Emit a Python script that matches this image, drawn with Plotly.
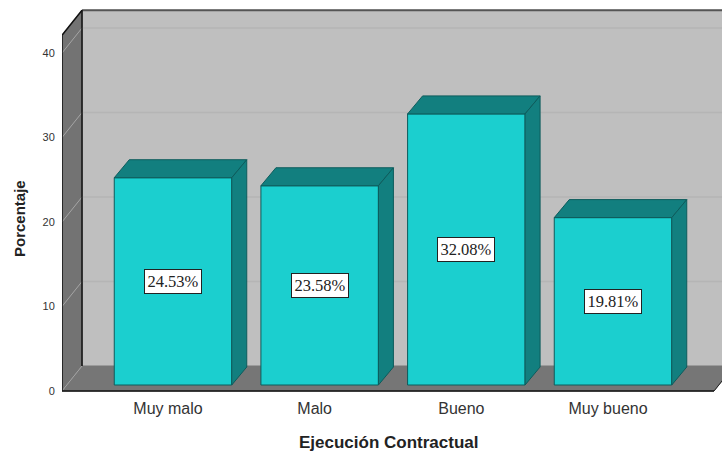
import plotly.graph_objects as go

categories = ["Muy malo", "Malo", "Bueno", "Muy bueno"]
values = [24.53, 23.58, 32.08, 19.81]
labels = ["24.53%", "23.58%", "32.08%", "19.81%"]
y_ticks = [0, 10, 20, 30, 40]

# Pseudo-3D geometry in axis units
PX_Y = 8.45
PX_X = 146.67
X_MIN = -106 / PX_X
X_MAX = X_MIN + 660 / PX_X
Y_MIN = -2 / PX_Y
Y_MAX = 391 / PX_Y
WALL_DX, WALL_DY = 20 / PX_X, 25 / PX_Y
BAR_DX, BAR_DY = 15 / PX_X, 18 / PX_Y
BAR_W = 117.5 / PX_X
BAR_SHIFT = 5 / PX_X
BAR_BASE = 6 / PX_Y
WALL_TOP = 42.1
LEFT = X_MIN
FLOOR_RIGHT = LEFT + 652 / PX_X

C_FRONT, C_DARK, C_EDGE = "#1BCFCF", "#127F7F", "#0D5C5C"
C_BACK, C_FLOOR, C_SIDE = "#BFBFBF", "#767676", "#737373"
TEXT = "#333333"

def poly(xs, ys, fill, line=None, width=1, layer="below"):
    path = "M " + " L ".join(f"{x},{y}" for x, y in zip(xs, ys)) + " Z"
    return dict(type="path", path=path, xref="x", yref="y", fillcolor=fill,
                line=dict(color=line or fill, width=width), layer=layer)

def seg(x0, y0, x1, y1, color, width=1):
    return dict(type="line", x0=x0, y0=y0, x1=x1, y1=y1, xref="x", yref="y",
                line=dict(color=color, width=width), layer="below")

shapes = [
    # back wall
    poly([LEFT + WALL_DX, X_MAX + 1, X_MAX + 1, LEFT + WALL_DX],
         [WALL_DY, WALL_DY, WALL_TOP + WALL_DY, WALL_TOP + WALL_DY], C_BACK),
    # left wall
    poly([LEFT, LEFT + WALL_DX, LEFT + WALL_DX, LEFT],
         [0, WALL_DY, WALL_TOP + WALL_DY, WALL_TOP], C_SIDE),
    # floor
    poly([LEFT, LEFT + WALL_DX, FLOOR_RIGHT + WALL_DX, FLOOR_RIGHT],
         [0, WALL_DY, WALL_DY, 0], C_FLOOR),
]
for t in y_ticks[1:]:
    shapes.append(seg(LEFT + WALL_DX, t + WALL_DY, X_MAX + 1, t + WALL_DY, "#B5B5B5", 1.5))
    shapes.append(seg(LEFT, t, LEFT + WALL_DX, t + WALL_DY, "#A6A6A6", 1))
shapes += [
    seg(LEFT, 0, LEFT + WALL_DX, WALL_DY, "#A6A6A6", 1),
    seg(LEFT + WALL_DX, WALL_TOP + WALL_DY, X_MAX + 1, WALL_TOP + WALL_DY, "#555555", 2),
    seg(LEFT, 0, LEFT, WALL_TOP, "#111111", 1.5),
    seg(LEFT + WALL_DX, WALL_DY, LEFT + WALL_DX, WALL_TOP + WALL_DY, "#111111", 1.5),
    seg(LEFT, WALL_TOP, LEFT + WALL_DX, WALL_TOP + WALL_DY, "#111111", 1.5),
    seg(LEFT, 0, FLOOR_RIGHT, 0, "#111111", 1.5),
    seg(FLOOR_RIGHT, 0, FLOOR_RIGHT + WALL_DX, WALL_DY, "#222222", 1),
]

idx = list(range(len(categories)))
fig = go.Figure()
fig.add_trace(go.Bar(x=[i + BAR_SHIFT for i in idx], y=values, base=BAR_BASE, width=BAR_W,
                     marker=dict(color=C_FRONT, line=dict(color=C_EDGE, width=1)),
                     hoverinfo="skip", showlegend=False))

annotations = []
for i, v, lab in zip(idx, values, labels):
    xl = i + BAR_SHIFT - BAR_W / 2
    xr = i + BAR_SHIFT + BAR_W / 2
    yb = BAR_BASE
    yt = BAR_BASE + v
    # top face
    fig.add_trace(go.Scatter(x=[xl, xr, xr + BAR_DX, xl + BAR_DX, xl],
                             y=[yt, yt, yt + BAR_DY, yt + BAR_DY, yt],
                             mode="lines", fill="toself", fillcolor=C_DARK,
                             line=dict(color=C_EDGE, width=1),
                             hoverinfo="skip", showlegend=False))
    # side face
    fig.add_trace(go.Scatter(x=[xr, xr + BAR_DX, xr + BAR_DX, xr, xr],
                             y=[yb, yb + BAR_DY, yt + BAR_DY, yt, yb],
                             mode="lines", fill="toself", fillcolor=C_DARK,
                             line=dict(color=C_EDGE, width=1),
                             hoverinfo="skip", showlegend=False))
    annotations.append(dict(x=i + BAR_SHIFT, y=yb + v / 2, xref="x", yref="y", text=lab,
                            showarrow=False, bgcolor="white", bordercolor="#222222",
                            borderwidth=1, borderpad=0, width=56, height=23,
                            font=dict(family="Liberation Serif", size=16.5, color="#222222")))

PLOT_H = 451 - 58
annotations.append(dict(x=(388 - 62) / 660, y=(PLOT_H - 442) / PLOT_H, xref="paper", yref="paper",
                        xanchor="center", yanchor="middle",
                        text="<b>Ejecución Contractual</b>", showarrow=False,
                        font=dict(family="Liberation Sans", size=17, color="#222222")))
annotations.append(dict(x=(20 - 62) / 660, y=(PLOT_H - 219) / PLOT_H, xref="paper", yref="paper",
                        xanchor="center", yanchor="middle",
                        text="<b>Porcentaje</b>", showarrow=False, textangle=-90,
                        font=dict(family="Liberation Sans", size=15, color="#222222")))

fig.update_layout(
    width=722, height=451, autosize=False,
    margin=dict(l=62, r=0, t=0, b=58, pad=0),
    paper_bgcolor="white", plot_bgcolor="white",
    showlegend=False, shapes=shapes, annotations=annotations,
    font=dict(family="Liberation Sans", color=TEXT),
    xaxis=dict(range=[X_MIN, X_MAX], tickmode="array", tickvals=idx, ticktext=categories,
               showgrid=False, zeroline=False, showline=False, automargin=False,
               ticks="outside", ticklen=1, tickcolor="rgba(0,0,0,0)",
               tickfont=dict(family="Liberation Sans", size=16, color=TEXT)),
    yaxis=dict(range=[Y_MIN, Y_MAX], tickmode="array", tickvals=y_ticks,
               showgrid=False, zeroline=False, showline=False, automargin=False,
               ticks="outside", ticklen=4, tickcolor="rgba(0,0,0,0)",
               tickfont=dict(family="Liberation Sans", size=11, color=TEXT)),
)

fig.write_html("out.html", config=dict(displayModeBar=False),
               post_script="document.body.style.margin='0';document.documentElement.style.overflow='hidden';")
